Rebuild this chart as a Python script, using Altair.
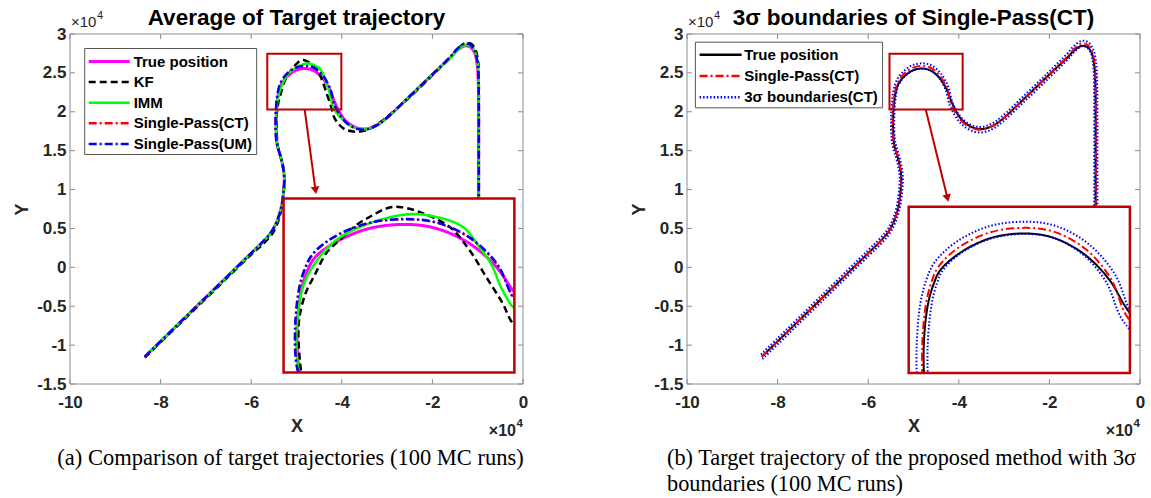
import math

import altair as alt
import pandas as pd

FONT = "Liberation Sans"
SERIF = "Liberation Serif"
BOX_RED = "#C00000"
FRAME = "#8c8c8c"
INK = "#262626"
W, H = 453, 350

X_DOMAIN = [-10, 0]
Y_DOMAIN = [-1.5, 3]
X_TICKS = [-10, -8, -6, -4, -2, 0]
Y_TICKS = [-1.5, -1, -0.5, 0, 0.5, 1, 1.5, 2, 2.5, 3]

# ---- target tracks, positions in units of 1e4 m ----
# approach leg and S-bend (shared by the estimators that overlap the truth)
LOW_X = [-8.35, -7.0, -6.0, -5.74, -5.55, -5.42, -5.33, -5.285, -5.27, -5.30, -5.36, -5.42]
LOW_Y = [-1.15, -0.385, 0.182, 0.33, 0.46, 0.61, 0.79, 0.98, 1.15, 1.30, 1.44, 1.56]
KF_LOW_X = [-8.35, -7.0, -6.0, -5.72, -5.52, -5.40, -5.32, -5.28, -5.27, -5.30, -5.36, -5.415]
KF_LOW_Y = [-1.16, -0.40, 0.165, 0.31, 0.445, 0.60, 0.79, 0.98, 1.15, 1.30, 1.44, 1.56]

# left hump and valley
TRUE_HUMP_X = [-5.44, -5.45, -5.425, -5.386, -5.345, -5.218, -5.02, -4.803, -4.624, -4.427,
               -4.268, -4.17, -4.08, -3.98, -3.85, -3.65, -3.46, -3.25, -3.05]
TRUE_HUMP_Y = [1.66, 1.895, 2.141, 2.269, 2.346, 2.446, 2.531, 2.556, 2.531, 2.436,
               2.289, 2.141, 2.03, 1.93, 1.85, 1.79, 1.78, 1.82, 1.90]
CT_HUMP_X = [-5.45, -5.46, -5.436, -5.398, -5.355, -5.228, -5.025, -4.80, -4.615, -4.42,
             -4.262, -4.17, -4.085, -3.99, -3.86, -3.66, -3.47, -3.26, -3.05]
CT_HUMP_Y = [1.66, 1.895, 2.15, 2.285, 2.368, 2.476, 2.563, 2.588, 2.564, 2.466,
             2.30, 2.10, 2.0, 1.915, 1.84, 1.78, 1.772, 1.815, 1.90]
UM_HUMP_X = [-5.452, -5.462, -5.438, -5.40, -5.357, -5.23, -5.025, -4.80, -4.613, -4.418,
             -4.26, -4.17, -4.085, -3.99, -3.86, -3.66, -3.47, -3.26, -3.05]
UM_HUMP_Y = [1.66, 1.895, 2.152, 2.287, 2.37, 2.478, 2.565, 2.59, 2.566, 2.468,
             2.302, 2.10, 2.0, 1.915, 1.84, 1.78, 1.772, 1.815, 1.90]
IMM_HUMP_X = [-5.445, -5.452, -5.415, -5.337, -5.218, -5.02, -4.783, -4.624, -4.467, -4.368,
              -4.29, -4.25, -4.21, -4.17, -4.08, -3.98, -3.85, -3.65, -3.46, -3.25, -3.05]
IMM_HUMP_Y = [1.66, 1.895, 2.162, 2.32, 2.457, 2.563, 2.621, 2.603, 2.541, 2.414,
              2.289, 2.184, 2.10, 2.036, 1.96, 1.90, 1.835, 1.785, 1.78, 1.82, 1.90]
KF_HUMP_X = [-5.43, -5.44, -5.40, -5.346, -5.277, -5.198, -5.098, -5.02, -4.92, -4.845,
             -4.723, -4.545, -4.427, -4.328, -4.23, -4.17, -4.08, -3.95, -3.78, -3.60,
             -3.42, -3.25, -3.05]
KF_HUMP_Y = [1.66, 1.931, 2.12, 2.235, 2.374, 2.457, 2.552, 2.603, 2.657, 2.667,
             2.635, 2.541, 2.394, 2.225, 2.058, 1.931, 1.85, 1.78, 1.75, 1.745,
             1.77, 1.83, 1.91]

# climb to the right peak and the southbound leg
TRUE_UP_X = [-2.5, -2.0, -1.6, -1.45, -1.3, -1.17, -1.07, -1.01, -0.985, -0.98, -0.98, -0.98]
TRUE_UP_Y = [2.2, 2.48, 2.70, 2.79, 2.845, 2.835, 2.76, 2.6, 2.35, 2.0, 1.4, 0.5]
CT_UP_X = [-2.5, -2.0, -1.6, -1.45, -1.3, -1.17, -1.06, -1.0, -0.98, -0.975, -0.975, -0.975]
CT_UP_Y = [2.2, 2.48, 2.71, 2.81, 2.875, 2.865, 2.78, 2.61, 2.35, 2.0, 1.4, 0.5]
IMM_UP_X = [-2.5, -2.0, -1.6, -1.45, -1.3, -1.16, -1.06, -1.0, -0.98, -0.978, -0.978, -0.978]
IMM_UP_Y = [2.2, 2.48, 2.70, 2.79, 2.85, 2.85, 2.77, 2.61, 2.36, 2.0, 1.4, 0.5]
KF_UP_X = [-2.5, -2.0, -1.6, -1.45, -1.3, -1.15, -1.05, -0.99, -0.975, -0.975, -0.975, -0.975]
KF_UP_Y = [2.19, 2.47, 2.70, 2.80, 2.875, 2.875, 2.80, 2.64, 2.37, 2.0, 1.4, 0.5]

# 3-sigma envelope of the Single-Pass(CT) estimate (outer / inner side)
SIG_OUT_X = [-8.367, -7.017, -6.017, -5.759, -5.573, -5.449, -5.363, -5.32, -5.305, -5.333,
             -5.392, -5.453, -5.485, -5.495, -5.471, -5.431, -5.381, -5.246, -5.034, -4.80,
             -4.604, -4.399, -4.233, -4.14, -4.06, -3.97, -3.847, -3.654, -3.473, -3.27,
             -3.066, -2.517, -2.017, -1.618, -1.467, -1.307, -1.157, -1.031, -0.966, -0.945,
             -0.94, -0.94, -0.94]
SIG_OUT_Y = [-1.12, -0.355, 0.212, 0.36, 0.486, 0.629, 0.802, 0.986, 1.148, 1.29,
             1.425, 1.547, 1.656, 1.896, 2.156, 2.297, 2.391, 2.506, 2.597, 2.623,
             2.597, 2.494, 2.32, 2.118, 2.024, 1.944, 1.872, 1.814, 1.807, 1.849,
             1.931, 2.231, 2.511, 2.74, 2.841, 2.909, 2.898, 2.799, 2.616, 2.351,
             2.0, 1.4, 0.5]
SIG_IN_X = [-8.333, -6.983, -5.983, -5.721, -5.527, -5.391, -5.297, -5.25, -5.235, -5.267,
            -5.328, -5.387, -5.415, -5.425, -5.401, -5.365, -5.329, -5.21, -5.016, -4.80,
            -4.626, -4.441, -4.291, -4.20, -4.11, -4.01, -3.873, -3.666, -3.467, -3.25,
            -3.034, -2.483, -1.983, -1.582, -1.433, -1.293, -1.183, -1.089, -1.034, -1.015,
            -1.01, -1.01, -1.01]
SIG_IN_Y = [-1.18, -0.415, 0.152, 0.30, 0.434, 0.591, 0.778, 0.974, 1.152, 1.31,
            1.455, 1.573, 1.664, 1.894, 2.144, 2.273, 2.345, 2.446, 2.529, 2.553,
            2.531, 2.438, 2.28, 2.082, 1.976, 1.886, 1.808, 1.746, 1.737, 1.781,
            1.869, 2.169, 2.449, 2.68, 2.779, 2.841, 2.832, 2.761, 2.604, 2.349,
            2.0, 1.4, 0.5]

# ---- series styling ----
LEFT_SERIES = ["True position", "KF", "IMM", "Single-Pass(CT)", "Single-Pass(UM)"]
LEFT_COLORS = ["#FF00FF", "#000000", "#00FF00", "#FF0000", "#0000FF"]
LEFT_DASHES = [[1, 0], [7, 4], [1, 0], [8, 3, 2, 3], [8, 3, 2, 3]]
LEFT_WIDTHS = [3, 2.5, 2.5, 2, 2.5]

RIGHT_SERIES = ["True position", "Single-Pass(CT)", "3σ boundaries(CT)"]
RIGHT_COLORS = ["#000000", "#FF0000", "#0000FF"]
RIGHT_DASHES = [[1, 0], [8, 3, 2, 3], [1.5, 2]]
RIGHT_WIDTHS = [2, 2, 2]

# ---- zoom windows (data), inset frames, marker boxes and arrows (axis units) ----
LEFT_ZOOM = dict(zx=[-5.53, -4.16], zy=[1.62, 2.72],
                 bx=[-5.285, -0.19], by=[-1.353, 0.885],
                 mx=[-5.645, -4.01], my=[2.03, 2.746],
                 ax=[-4.82, -4.58], ay=[2.03, 0.99])
RIGHT_ZOOM = dict(zx=[-5.545, -4.14], zy=[1.76, 2.708],
                  bx=[-5.106, -0.223], by=[-1.36, 0.778],
                  mx=[-5.53, -3.915], my=[2.028, 2.746],
                  ax=[-4.73, -4.25], ay=[2.028, 0.89])

# legend boxes, pixel offsets from the plot's top-left corner
LEFT_LEGEND = dict(box=[14.7, 14.5, 186.7, 120.5], line=[18.7, 59.7], text=63.7,
                   row0=27.5, step=20.6)
RIGHT_LEGEND = dict(box=[8.4, 8.2, 195.6, 73.8], line=[12.6, 54.6], text=57.2,
                    row0=20.8, step=21.2)


def track(name, xs, ys, part="a"):
    return pd.DataFrame({"series": name, "part": part, "i": range(len(xs)), "x": xs, "y": ys})


left_df = pd.concat([
    track("True position", LOW_X + TRUE_HUMP_X + TRUE_UP_X, LOW_Y + TRUE_HUMP_Y + TRUE_UP_Y),
    track("KF", KF_LOW_X + KF_HUMP_X + KF_UP_X, KF_LOW_Y + KF_HUMP_Y + KF_UP_Y),
    track("IMM", LOW_X + IMM_HUMP_X + IMM_UP_X, LOW_Y + IMM_HUMP_Y + IMM_UP_Y),
    track("Single-Pass(CT)", LOW_X + CT_HUMP_X + CT_UP_X, LOW_Y + CT_HUMP_Y + CT_UP_Y),
    track("Single-Pass(UM)", LOW_X + UM_HUMP_X + CT_UP_X, LOW_Y + UM_HUMP_Y + CT_UP_Y),
], ignore_index=True)

right_df = pd.concat([
    track("True position", LOW_X + TRUE_HUMP_X + TRUE_UP_X, LOW_Y + TRUE_HUMP_Y + TRUE_UP_Y),
    track("Single-Pass(CT)", LOW_X + CT_HUMP_X + CT_UP_X, LOW_Y + CT_HUMP_Y + CT_UP_Y),
    track("3σ boundaries(CT)", SIG_OUT_X, SIG_OUT_Y, "outer"),
    track("3σ boundaries(CT)", SIG_IN_X, SIG_IN_Y, "inner"),
], ignore_index=True)

XAXIS = alt.Axis(title="X", values=X_TICKS, labelExpr="'' + datum.value", domain=False,
                 ticks=False, tickSize=0, grid=False, labelFlush=False, labelOverlap=False,
                 labelFont=FONT, labelFontSize=17, labelFontWeight="bold", labelColor=INK,
                 labelPadding=10, titleFont=FONT, titleFontSize=18, titleFontWeight="bold",
                 titleColor=INK, titlePadding=7)
YAXIS = alt.Axis(title="Y", values=Y_TICKS, labelExpr="'' + datum.value", domain=False,
                 ticks=False, tickSize=0, grid=False, labelFlush=False, labelOverlap=False,
                 labelFont=FONT, labelFontSize=17, labelFontWeight="bold", labelColor=INK,
                 labelPadding=4, titleFont=FONT, titleFontSize=18, titleFontWeight="bold",
                 titleColor=INK, titlePadding=5)
XSCALE = alt.Scale(domain=X_DOMAIN, nice=False, zero=False)
YSCALE = alt.Scale(domain=Y_DOMAIN, nice=False, zero=False)


def xenc(field):
    return alt.X(f"{field}:Q", scale=XSCALE, axis=XAXIS)


def yenc(field):
    return alt.Y(f"{field}:Q", scale=YSCALE, axis=YAXIS)


def one_row(**kw):
    return pd.DataFrame({k: [v] for k, v in kw.items()})


def legend_layers(series, colors, dashes, widths, lg):
    note = alt.Chart(one_row(t=""))
    x0, y0, x1, y1 = lg["box"]
    out = [note.mark_rect(fill="white", stroke="#555555", strokeWidth=1).encode(
        x=alt.value(x0), x2=alt.value(x1), y=alt.value(y0), y2=alt.value(y1))]
    for k, (name, c, d, w) in enumerate(zip(series, colors, dashes, widths)):
        yy = lg["row0"] + k * lg["step"]
        out.append(note.mark_rule(color=c, strokeDash=d, strokeWidth=max(w, 2.5)).encode(
            x=alt.value(lg["line"][0]), x2=alt.value(lg["line"][1]), y=alt.value(yy)))
        out.append(note.mark_text(text=name, font=FONT, fontSize=15, fontWeight="bold",
                                  align="left", baseline="middle", color="black").encode(
            x=alt.value(lg["text"]), y=alt.value(yy)))
    return out


def panel(df, series, colors, dashes, widths, z, lg, title, caption, caption_align):
    color = alt.Color("series:N", scale=alt.Scale(domain=series, range=colors), legend=None)
    dash = alt.StrokeDash("series:N", scale=alt.Scale(domain=series, range=dashes), legend=None)

    zx, zy, bx, by = z["zx"], z["zy"], z["bx"], z["by"]
    sx = (bx[1] - bx[0]) / (zx[1] - zx[0])
    sy = (by[1] - by[0]) / (zy[1] - zy[0])
    window = (f"datum.x >= {zx[0] - 0.3} && datum.x <= {zx[1] + 0.3} && "
              f"datum.y >= {zy[0] - 0.3} && datum.y <= {zy[1] + 0.3}")

    main_lines, inset_lines = [], []
    for name, w in zip(series, widths):
        base = alt.Chart(df).transform_filter(alt.datum.series == name)
        main_lines.append(
            base.mark_line(interpolate="catmull-rom", strokeWidth=w, clip=True).encode(
                x=xenc("x"), y=yenc("y"), color=color, strokeDash=dash,
                detail="part:N", order="i:Q"))
        inset_lines.append(
            base.transform_filter(window).transform_calculate(
                xi=f"{bx[0]} + (datum.x - ({zx[0]})) * {sx}",
                yi=f"{by[0]} + (datum.y - ({zy[0]})) * {sy}",
            ).mark_line(interpolate="catmull-rom", strokeWidth=w, clip=True).encode(
                x=xenc("xi"), y=yenc("yi"), color=color, strokeDash=dash,
                detail="part:N", order="i:Q"))

    def box(xr, yr):
        return alt.Chart(one_row(x0=xr[0], x1=xr[1], y0=yr[0], y1=yr[1]))

    def box_enc():
        return dict(x=xenc("x0"), x2="x1", y=yenc("y0"), y2="y1")

    marker = box(z["mx"], z["my"]).mark_rect(filled=False, stroke=BOX_RED, strokeWidth=2).encode(**box_enc())
    inset_fill = box(bx, by).mark_rect(fill="white", strokeWidth=0).encode(**box_enc())
    inset_edge = box(bx, by).mark_rect(filled=False, stroke=BOX_RED, strokeWidth=2.5).encode(**box_enc())
    mask_bottom = box([bx[0] - 0.05, X_DOMAIN[1]], [Y_DOMAIN[0], by[0]]).mark_rect(
        fill="white", strokeWidth=0).encode(**box_enc())
    mask_right = box([bx[1], X_DOMAIN[1]], [by[0], by[1]]).mark_rect(
        fill="white", strokeWidth=0).encode(**box_enc())
    frame = box(X_DOMAIN, Y_DOMAIN).mark_rect(filled=False, stroke=FRAME, strokeWidth=1).encode(**box_enc())

    ax, ay = z["ax"], z["ay"]
    arrow = box(ax, ay).mark_rule(color=BOX_RED, strokeWidth=2).encode(**box_enc())
    dx_px = (ax[1] - ax[0]) * W / (X_DOMAIN[1] - X_DOMAIN[0])
    dy_px = (ay[0] - ay[1]) * H / (Y_DOMAIN[1] - Y_DOMAIN[0])
    tilt = math.degrees(math.atan2(dx_px, dy_px))
    head = alt.Chart(one_row(x=ax[1], y=ay[1])).mark_point(
        shape="triangle-down", filled=True, size=75, opacity=1, color=BOX_RED,
        angle=(360 - tilt) % 360).encode(x=xenc("x"), y=yenc("y"))

    xt = alt.Chart(pd.DataFrame({"v": X_TICKS}))
    yt = alt.Chart(pd.DataFrame({"v": Y_TICKS}))
    ticks = [
        xt.mark_rule(color=FRAME).encode(x=xenc("v"), y=alt.value(H), y2=alt.value(H - 5)),
        xt.mark_rule(color=FRAME).encode(x=xenc("v"), y=alt.value(0), y2=alt.value(5)),
        yt.mark_rule(color=FRAME).encode(y=yenc("v"), x=alt.value(0), x2=alt.value(5)),
        yt.mark_rule(color=FRAME).encode(y=yenc("v"), x=alt.value(W), x2=alt.value(W - 5)),
    ]

    note = alt.Chart(one_row(t=""))
    texts = [
        note.mark_text(text=title, font=FONT, fontSize=22.5, fontWeight="bold", align="center",
                       baseline="middle", color="black").encode(
            x=alt.value(W / 2), y=alt.value(-16.5)),
        note.mark_text(text="×10", font=FONT, fontSize=15, align="left", baseline="middle",
                       color=INK).encode(x=alt.value(1), y=alt.value(-12)),
        note.mark_text(text="4", font=FONT, fontSize=11, align="left", baseline="middle",
                       color=INK).encode(x=alt.value(27), y=alt.value(-18.5)),
        note.mark_text(text="×10", font=FONT, fontSize=16, fontWeight="bold", align="right",
                       baseline="middle", color=INK).encode(x=alt.value(W - 7), y=alt.value(H + 47)),
        note.mark_text(text="4", font=FONT, fontSize=11.5, fontWeight="bold", align="right",
                       baseline="middle", color=INK).encode(x=alt.value(W), y=alt.value(H + 40)),
    ]
    if caption_align == "center":
        texts.append(note.mark_text(text=caption, font=SERIF, fontSize=22.5, align="center",
                                    baseline="middle", color="black").encode(
            x=alt.value(W / 2 - 6), y=alt.value(H + 74)))
    else:
        texts.append(note.mark_text(text=caption, font=SERIF, fontSize=22.3, align="left",
                                    baseline="middle", lineHeight=26, color="black").encode(
            x=alt.value(-20), y=alt.value(H + 74)))

    layers = (main_lines + [marker, arrow, head, inset_fill] + inset_lines
              + [mask_bottom, mask_right, inset_edge, frame] + ticks
              + legend_layers(series, colors, dashes, widths, lg) + texts)
    return alt.layer(*layers).properties(width=W, height=H)


left = panel(left_df, LEFT_SERIES, LEFT_COLORS, LEFT_DASHES, LEFT_WIDTHS, LEFT_ZOOM,
             LEFT_LEGEND, "Average of Target trajectory",
             "(a) Comparison of target trajectories (100 MC runs)", "center")
right = panel(right_df, RIGHT_SERIES, RIGHT_COLORS, RIGHT_DASHES, RIGHT_WIDTHS, RIGHT_ZOOM,
              RIGHT_LEGEND, "3σ boundaries of Single-Pass(CT)",
              ["(b) Target trajectory of the proposed method with 3σ",
               "boundaries (100 MC runs)"], "left")

chart = alt.hconcat(left, right, spacing=164, bounds="flush").resolve_scale(
    color="independent", strokeDash="independent"
).properties(
    padding={"left": 13, "top": 6, "right": 0, "bottom": 0},
    background="white",
).configure_view(stroke=None)

chart.save("out.html", embed_options={"renderer": "svg", "actions": False})
